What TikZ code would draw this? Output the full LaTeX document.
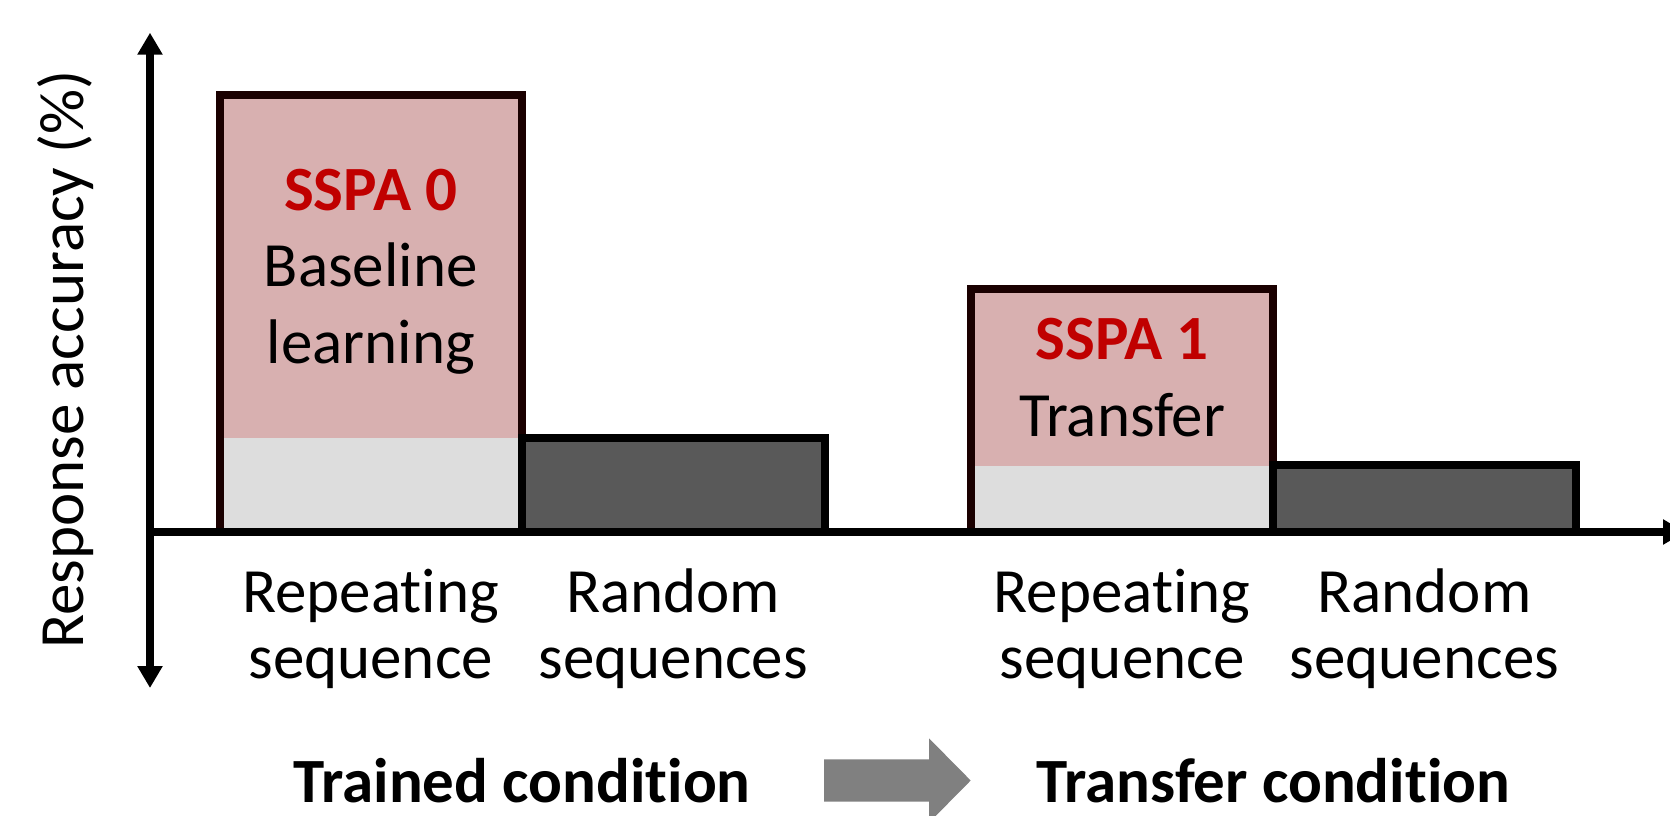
\documentclass[tikz,border=0pt]{standalone}
\usepackage{fontspec}
\setmainfont{Carlito}[Ligatures={NoCommon}]
\usetikzlibrary{arrows.meta}

\definecolor{barpink}{HTML}{D8B0B0}
\definecolor{barlight}{HTML}{DDDDDD}
\definecolor{bardark}{HTML}{595959}
\definecolor{sspared}{HTML}{C00000}
\definecolor{flowgray}{HTML}{808080}
\definecolor{edgedark}{HTML}{1A0000}

\tikzset{
  txt/.style={inner sep=0pt, anchor=base, font=\fontsize{63}{77}\selectfont},
  boldtxt/.style={txt, font=\fontsize{63}{77}\selectfont\bfseries},
  ssparef/.style={boldtxt, text=sspared},
  axisline/.style={line width=7.5pt, -{Triangle[width=24pt,length=22pt]}},
  barframe/.style={line width=8pt, draw=edgedark},
  darkbar/.style={line width=8pt, draw=black, fill=bardark},
}

\begin{document}
\begin{tikzpicture}[x=1pt,y=-1pt]
\useasboundingbox (0,0) rectangle (1670,815);

% --- trained condition bars ---
\fill[barpink]  (219.7,95.3) rectangle (521.7,532);
\fill[barlight] (219.7,437.7) rectangle (521.7,532);
\draw[barframe] (219.7,95.3) rectangle (521.7,532);
\draw[darkbar]  (522,437.5) rectangle (824.5,532);

% --- transfer condition bars ---
\fill[barpink]  (971,288.5) rectangle (1273.3,532);
\fill[barlight] (971,465.5) rectangle (1273.3,532);
\draw[barframe] (971,288.5) rectangle (1273.3,532);
\draw[darkbar]  (1273.3,465) rectangle (1575.5,532);

% --- axes ---
\coordinate (origin) at (150,532);
\coordinate (ytop) at (150,32.7);
\coordinate (ybot) at (150,688);
\coordinate (xend) at (1685,532);
\draw[axisline, {Triangle[width=24pt,length=22pt]}-{Triangle[width=24pt,length=22pt]}] (ybot) -- (ytop);
\draw[axisline] ([xshift=-3.75pt]origin) -- (xend);

\node[txt, rotate=90] (ylab) at (83,359.5) {Response accuracy (\%)};

% --- labels inside the bars ---
\node[ssparef] (sspa0) at (370.7,210) {SSPA 0};
\node[txt] (base1) at (370.7,286) {Baseline};
\node[txt] (base2) at (370.7,363.5) {learning};

\node[ssparef] (sspa1) at (1122.2,359) {SSPA 1};
\node[txt] (trans) at (1122.2,436) {Transfer};

% --- category labels ---
\node[txt] (rep1a) at (370.7,612) {Repeating};
\node[txt] (rep1b) at (370.7,678) {sequence};
\node[txt] (rnd1a) at (673.3,612) {Random};
\node[txt] (rnd1b) at (673.3,678) {sequences};

\node[txt] (rep2a) at (1122.2,612) {Repeating};
\node[txt] (rep2b) at (1122.2,678) {sequence};
\node[txt] (rnd2a) at (1424.4,612) {Random};
\node[txt] (rnd2b) at (1424.4,678) {sequences};

% --- condition captions and the block arrow between them ---
\node[boldtxt] (trained) at (522,802) {Trained condition};
\node[boldtxt] (transfer) at (1273.3,802) {Transfer condition};

\fill[flowgray] (824,759.3) -- (929,759.3) -- (929,738.3) -- (970.7,780.5)
  -- (929,822.7) -- (929,801.7) -- (824,801.7) -- cycle;
\end{tikzpicture}
\end{document}
